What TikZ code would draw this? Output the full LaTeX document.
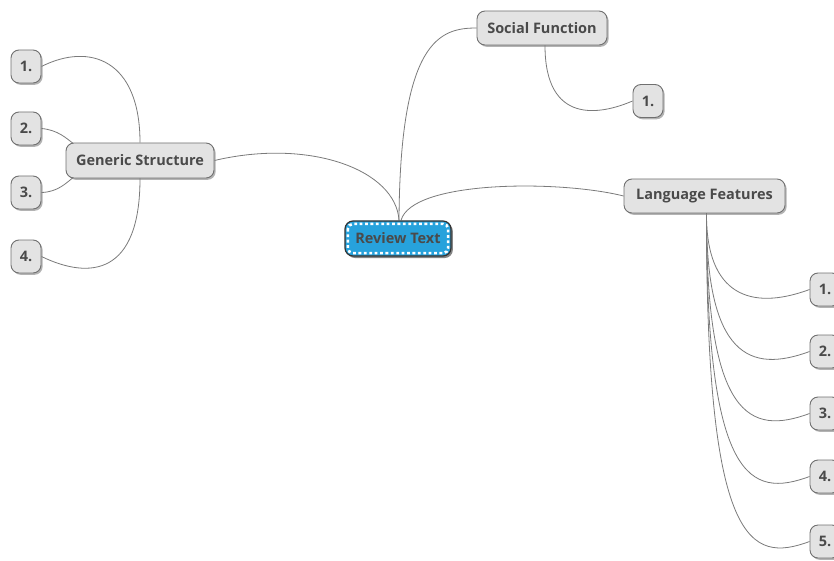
\documentclass[tikz,border=0pt]{standalone}
\usepackage{fontspec}
\setmainfont{Open Sans}
\usetikzlibrary{shadows,backgrounds}
\definecolor{boxfill}{HTML}{E3E3E3}
\definecolor{boxline}{HTML}{707070}
\definecolor{txt}{HTML}{4A4A4A}
\definecolor{rtblue}{HTML}{27A2DC}
\definecolor{linkc}{HTML}{7A7A7A}
\tikzset{
  topic/.style={draw=boxline, line width=0.9pt, fill=boxfill, rounded corners=8pt,
    text=txt, font=\fontsize{14.5}{17}\selectfont\bfseries, inner sep=0pt, align=center,
    drop shadow={shadow xshift=1.6pt, shadow yshift=-1.8pt, fill=black!50, opacity=0.6}},
  item/.style={topic, minimum width=30pt, minimum height=33pt},
  central/.style={draw=black!80, line width=1.2pt, fill=rtblue, rounded corners=8pt,
    text=txt, font=\fontsize{14.5}{17}\selectfont\bfseries, inner sep=0pt,
    minimum width=106pt, minimum height=35pt,
    drop shadow={shadow xshift=1.8pt, shadow yshift=-2pt, fill=black!60, opacity=0.8}},
  linkline/.style={draw=linkc, line width=0.8pt}
}
\begin{document}
\begin{tikzpicture}[x=1pt, y=-1pt]
\useasboundingbox (0,0) rectangle (834,561);
\clip (0,0) rectangle (834,561);
% nodes
\node[central] (rt) at (398,238.5) {Review Text};
\draw[white, line width=2.6pt, dash pattern=on 2.8pt off 2.6pt, rounded corners=5pt]
  ([shift={(3.5pt,-3.5pt)}]rt.north west) rectangle ([shift={(-3.5pt,3.5pt)}]rt.south east);
\node[topic, minimum width=148pt, minimum height=35pt] (gs) at (140,160.5) {Generic Structure};
\node[topic, minimum width=130pt, minimum height=34pt] (sf) at (542,28) {Social Function};
\node[topic, minimum width=161pt, minimum height=34pt] (lf) at (704.5,196) {Language Features};

\node[item] (g1) at (26,66.5) {1.};
\node[item] (g2) at (26,128.5) {2.};
\node[item] (g3) at (26,192.5) {3.};
\node[item] (g4) at (26,256.5) {4.};
\node[item] (s1) at (648,101) {1.};
\node[item] (l1) at (825,289.5) {1.};
\node[item] (l2) at (825,351.5) {2.};
\node[item] (l3) at (825,413.5) {3.};
\node[item] (l4) at (825,476.5) {4.};
\node[item] (l5) at (825,541.5) {5.};

% connectors
\begin{scope}[on background layer]
\draw[linkline] (gs.east) .. controls (310,138) and (396,170) .. ([xshift=1pt]rt.north);
\draw[linkline] ([xshift=1pt]rt.north) .. controls (400,40) and (440,28) .. (sf.west);
\draw[linkline] ([xshift=3pt]rt.north) .. controls (412,180) and (560,180) .. (lf.west);
\draw[linkline] (gs.north) .. controls (140,60) and (90,42) .. (g1.east);
\draw[linkline] ([xshift=9pt,yshift=-2pt]gs.north west) .. controls (66,138) and (58,130) .. (g2.east);
\draw[linkline] ([xshift=9pt,yshift=2pt]gs.south west) .. controls (66,183) and (58,192) .. (g3.east);
\draw[linkline] (gs.south) .. controls (140,275) and (90,280) .. (g4.east);
\draw[linkline] ([xshift=3pt]sf.south) .. controls (545,125) and (600,115) .. (s1.west);
\foreach \i/\y in {1/289.5,2/351.5,3/413.5,4/476.5,5/541.5}{
  \draw[linkline] ([xshift=2pt]lf.south) .. controls (706,\y+5) and (750,\y+22) .. (l\i.west);
}
\end{scope}
\end{tikzpicture}
\end{document}
